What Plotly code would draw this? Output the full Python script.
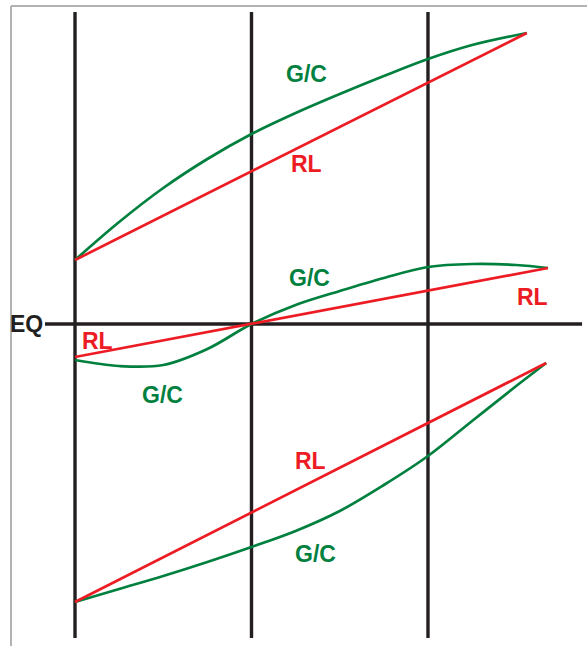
import plotly.graph_objects as go

# periods: vertical lines at 0, 1, 2 ; EQ at y = 0
period_x = [0, 1, 2]
period_y = [3.12, -3.14]
eq_x = [-0.17, 2.873]

# upper pair
top_rl_x = [0, 2.56]
top_rl_y = [0.64, 2.91]
top_gc_x = [0, 0.25, 0.5, 0.75, 1.0, 1.25, 1.5, 1.75, 2.0, 2.25, 2.56]
top_gc_y = [0.64, 1.02, 1.36, 1.65, 1.90, 2.11, 2.30, 2.48, 2.65, 2.79, 2.91]

# middle pair
mid_rl_x = [0, 2.68]
mid_rl_y = [-0.33, 0.56]
mid_gc_x = [0, 0.25, 0.5, 0.75, 1.0, 1.25, 1.5, 1.75, 2.0, 2.25, 2.5, 2.68]
mid_gc_y = [-0.36, -0.42, -0.41, -0.25, 0.0, 0.19, 0.33, 0.46, 0.57, 0.60, 0.59, 0.56]

# lower pair
low_rl_x = [0, 2.67]
low_rl_y = [-2.78, -0.39]
low_gc_x = [0, 0.25, 0.5, 0.75, 1.0, 1.25, 1.5, 1.75, 2.0, 2.25, 2.5, 2.67]
low_gc_y = [-2.78, -2.65, -2.52, -2.38, -2.23, -2.07, -1.87, -1.61, -1.32, -0.97, -0.62, -0.39]

# labels
label_text = ["G/C", "RL", "G/C", "RL", "RL", "G/C", "RL", "G/C"]
label_x = [1.314, 1.314, 1.326, 2.595, 0.125, 0.493, 1.337, 1.360]
label_y = [2.50, 1.60, 0.46, 0.27, -0.17, -0.71, -1.37, -2.30]

BLACK = "#231f20"
RED = "#ed1c24"
GREEN = "#00803e"

fig = go.Figure()

for px in period_x:
    fig.add_trace(go.Scatter(x=[px, px], y=period_y, mode="lines",
                             line=dict(color=BLACK, width=3.4), hoverinfo="skip"))
fig.add_trace(go.Scatter(x=eq_x, y=[0, 0], mode="lines",
                         line=dict(color=BLACK, width=3.4), hoverinfo="skip"))

for xs, ys, col, shape in [
    (top_gc_x, top_gc_y, GREEN, "spline"),
    (top_rl_x, top_rl_y, RED, "linear"),
    (mid_gc_x, mid_gc_y, GREEN, "spline"),
    (mid_rl_x, mid_rl_y, RED, "linear"),
    (low_gc_x, low_gc_y, GREEN, "spline"),
    (low_rl_x, low_rl_y, RED, "linear"),
]:
    fig.add_trace(go.Scatter(x=xs, y=ys, mode="lines",
                             line=dict(color=col, width=2.7, shape=shape)))

for t, lx, ly in zip(label_text, label_x, label_y):
    fig.add_annotation(x=lx, y=ly, text="<b>%s</b>" % t, showarrow=False,
                       font=dict(size=23, color=GREEN if t == "G/C" else RED,
                                 family="Liberation Sans, Arial"))

fig.add_annotation(x=-0.17, y=0.0, text="<b>EQ</b>", showarrow=False, xanchor="right",
                   font=dict(size=23, color=BLACK, family="Liberation Sans, Arial"))

# light frame on top and left
fig.add_shape(type="line", xref="paper", yref="paper", x0=11 / 587, x1=1, y0=1 - 6 / 646, y1=1 - 6 / 646,
              line=dict(color="#b3b3b3", width=2))
fig.add_shape(type="line", xref="paper", yref="paper", x0=11 / 587, x1=11 / 587, y0=0, y1=1 - 6 / 646,
              line=dict(color="#b3b3b3", width=2))

fig.update_layout(
    width=587, height=646,
    margin=dict(l=0, r=0, t=0, b=0),
    showlegend=False,
    paper_bgcolor="white", plot_bgcolor="white",
    xaxis=dict(range=[-0.425, 2.901], visible=False, fixedrange=True),
    yaxis=dict(range=[-3.22, 3.24], visible=False, fixedrange=True),
)

# drop the browser's default body margin so the figure sits at the window corner
fig.write_html("out.html", config={"displayModeBar": False},
               post_script="document.body.style.margin='0';document.body.style.overflow='hidden';")
